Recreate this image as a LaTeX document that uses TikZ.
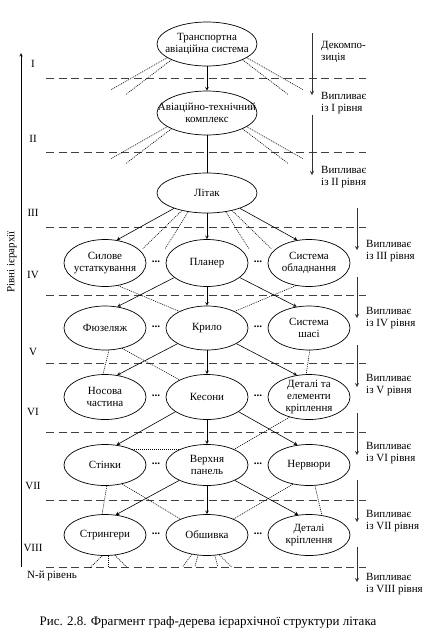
\documentclass[tikz,border=0pt]{standalone}
\usepackage{fontspec}
\setmainfont{Liberation Serif}
\usetikzlibrary{shapes.geometric,arrows}
\begin{document}
\begin{tikzpicture}[x=1pt,y=-1pt,font=\fontsize{11}{12}\selectfont]
        \tikzstyle{big} = [ellipse, draw, line width=0.7pt, minimum width=100pt, minimum height=44pt, align=center, inner xsep=-16pt, inner ysep=-2pt]
        \tikzstyle{part} = [ellipse, draw, line width=0.7pt, minimum width=82pt, minimum height=44pt, align=center, inner xsep=-8pt, inner ysep=-2pt]
        \tikzstyle{arrow} = [line width=0.6pt,->,>=stealth]
        \tikzstyle{side} = [line width=0.8pt,black!80,->,>=stealth]
        \tikzstyle{link} = [line width=0.6pt, dash pattern=on 1pt off 1pt]
        \tikzstyle{level} = [line width=0.9pt, dash pattern=on 8pt off 4.5pt, black!75]
        \tikzstyle{note} = [anchor=west, align=left, inner sep=0pt]
        \tikzstyle{etc} = [inner sep=0pt, font=\fontsize{11}{12}\selectfont\bfseries]

        \useasboundingbox (0,0) rectangle (434,638);

        % levels
        \draw [level] (46,78) -- (366,78);
        \draw [level] (46,152) -- (366,152);
        \draw [level] (46,227) -- (366,227);
        \draw [level] (46,295) -- (366,295);
        \draw [level] (46,363) -- (366,363);
        \draw [level] (46,432) -- (366,432);
        \draw [level] (46,500) -- (366,500);
        \draw [level] (46,567) -- (366,567);

        \node (lvI) at (33,64) {I};
        \node (lvII) at (33,139) {II};
        \node (lvIII) at (33,213) {III};
        \node (lvIV) at (33,275) {IV};
        \node (lvV) at (33,352) {V};
        \node (lvVI) at (33,412) {VI};
        \node (lvVII) at (33,486) {VII};
        \node (lvVIII) at (33,548) {VIII};
        \node (lvN) [note] at (27,576) {N-й рівень};

        \coordinate (axbot) at (21,567);
        \coordinate (axtop) at (21,53);
        \draw [arrow] (axbot) -- (axtop);
        \node (axlabel) [rotate=90] at (12,262) {Рівні ієрархії};

        % tree
        \node (tas) [big] at (207,44) {Транспортна\\авіаційна система};
        \node (atk) [big] at (207,113) {Авіаційно-технічний\\комплекс};
        \node (litak) [big, minimum height=40pt] at (207,193) {Літак};

        \node (sylove) [part, minimum height=47pt] at (105,263) {Силове\\устаткування};
        \node (planer) [part, minimum height=47pt] at (207,263) {Планер};
        \node (sysobl) [part, minimum height=47pt] at (309,263) {Система\\обладнання};

        \node (fuzel) [part] at (105,328) {Фюзеляж};
        \node (krylo) [part] at (207,328) {Крило};
        \node (shasi) [part] at (309,328) {Система\\шасі};

        \node (nosova) [part, minimum height=45pt] at (105,397) {Носова\\частина};
        \node (kesony) [part, minimum height=45pt] at (207,397) {Кесони};
        \node (detel) [part, minimum height=45pt] at (309,397) {Деталі та\\елементи\\кріплення};

        \node (stinky) [part, minimum height=41pt] at (105,465) {Стінки};
        \node (panel) [part, minimum height=41pt] at (207,465) {Верхня\\панель};
        \node (nervury) [part, minimum height=41pt] at (309,465) {Нервюри};

        \node (stryng) [part, minimum height=41pt] at (105,535) {Стрингери};
        \node (obshyvka) [part, minimum height=41pt] at (207,535) {Обшивка};
        \node (detkr) [part, minimum height=41pt] at (309,535) {Деталі\\кріплення};

        \node (etc4a) [etc] at (156,262) {...};
        \node (etc4b) [etc] at (258,262) {...};
        \node (etc5a) [etc] at (156,327) {...};
        \node (etc5b) [etc] at (258,327) {...};
        \node (etc6a) [etc] at (156,396) {...};
        \node (etc6b) [etc] at (258,396) {...};
        \node (etc7a) [etc] at (156,464) {...};
        \node (etc7b) [etc] at (258,464) {...};
        \node (etc8a) [etc] at (156,534) {...};
        \node (etc8b) [etc] at (258,534) {...};

        \draw [arrow] (tas) -- (atk);
        \draw [line width=0.6pt] (atk) -- (litak);
        \draw [link] (tas.199) -- ++(-56,32);
        \draw [link] (tas.204) -- ++(-46,35);
        \draw [link] (tas.341) -- ++(56,32);
        \draw [link] (tas.336) -- ++(46,35);
        \draw [link] (atk.199) -- ++(-56,32);
        \draw [link] (atk.204) -- ++(-46,35);
        \draw [link] (atk.341) -- ++(56,32);
        \draw [link] (atk.336) -- ++(46,35);

        \draw [arrow] (litak.205) -- (sylove.63);
        \draw [arrow] (litak) -- (planer);
        \draw [arrow] (litak.335) -- (sysobl.117);
        \draw [link] (litak.215) -- ++(-39,38);
        \draw [link] (litak.225) -- ++(-23,37);
        \draw [link] (litak.325) -- ++(39,38);
        \draw [link] (litak.315) -- ++(23,37);

        \draw [arrow] (planer.204) -- (fuzel.60);
        \draw [arrow] (planer) -- (krylo);
        \draw [arrow] (planer.336) -- (shasi.120);
        \draw [link] (sylove.300) -- (krylo.149);
        \draw [link] (sysobl.240) -- (krylo.31);

        \draw [arrow] (krylo.208) -- (nosova.61);
        \draw [arrow] (krylo) -- (kesony);
        \draw [arrow] (krylo.332) -- (detel.119);
        \draw [link] (fuzel.280) -- (nosova.95);
        \draw [link] (fuzel.310) -- (kesony.148);
        \draw [link] (shasi.272) -- (detel.97);

        \draw [arrow] (kesony.205) -- (stinky.60);
        \draw [arrow] (kesony) -- (panel);
        \draw [arrow] (kesony.335) -- (nervury.120);
        \draw [link] (detel.226) -- (panel.30);
        \draw [link] (stinky.30) -- (panel.150);

        \draw [arrow] (panel.209) -- (stryng.62);
        \draw [arrow] (panel) -- (obshyvka);
        \draw [arrow] (panel.331) -- (detkr.118);
        \draw [link] (stinky.275) -- (stryng.98);
        \draw [link] (stinky.312) -- (obshyvka.149);
        \draw [link] (nervury.230) -- (obshyvka.31);
        \draw [link] (nervury.286) -- (detkr.57);

        \draw [link] (stryng.262) -- ++(-12,12);
        \draw [link] (stryng.278) -- ++(0,11);
        \draw [link] (stryng.296) -- ++(12,12);
        \draw [link] (obshyvka.232) -- ++(-9,12);
        \draw [link] (obshyvka.246) -- ++(-3,11);
        \draw [link] (obshyvka.291) -- ++(3,11);
        \draw [link] (obshyvka.302) -- ++(12,12);

        % decomposition side
        \coordinate (dec1) at (312,33);
        \coordinate (dec2) at (312,95);
        \draw [side] (dec1) -- (dec2);
        \node (decomp) [note] at (321,52) {Декомпо-\\зиція};
        \node (infl1) [note] at (321,103) {Випливає\\із I рівня};
        \coordinate (inf1a) at (312,115);
        \coordinate (inf1b) at (312,175);
        \draw [side] (inf1a) -- (inf1b);
        \node (infl2) [note] at (321,177) {Випливає\\із II рівня};
        \foreach \ya/\yb/\yt/\lv in {208/250/251/III, 277/318/318/IV, 345/387/385/V, 413/455/453/VI, 480/522/521/VII, 547/582/584/VIII}{
            \coordinate (top\lv) at (357,\ya);
            \coordinate (bot\lv) at (357,\yb);
            \draw [side] (top\lv) -- (bot\lv);
            \node (infl\lv) [note] at (366,\yt) {Випливає\\із \lv\ рівня};
        }

        \node (caption) at (208,622) {\fontsize{13}{15}\selectfont Рис. 2.8. Фрагмент граф-дерева ієрархічної структури літака};
    \end{tikzpicture}
\end{document}
